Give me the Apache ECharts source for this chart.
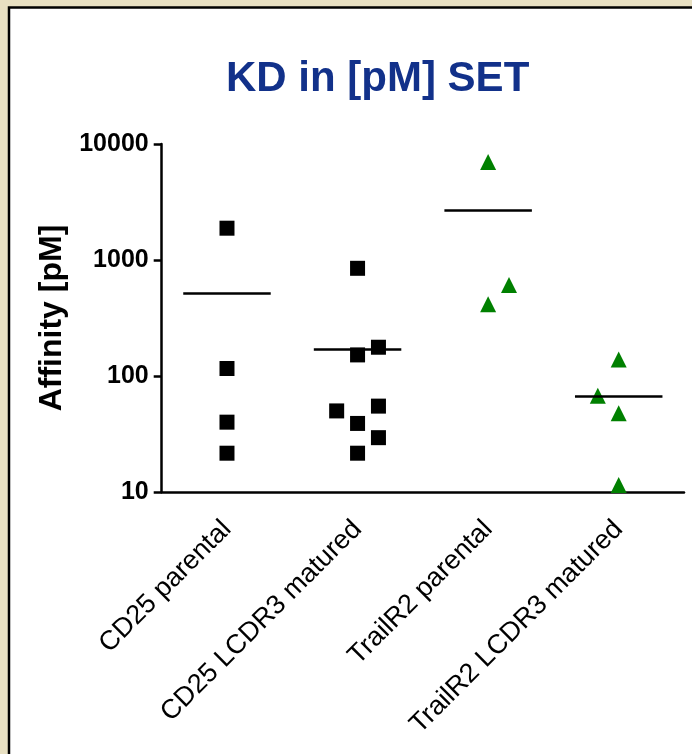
<!DOCTYPE html>
<html>
<head>
<meta charset="utf-8">
<script src="https://cdn.jsdelivr.net/npm/echarts@6/dist/echarts.min.js"></script>
<style>
	html, body { margin: 0; padding: 0; }
	#kd { width: 692px; height: 754px; }
</style>
</head>
<body>
<div id="kd"></div>
<script>
/**
 * 数据
 * **/
var categories = ['CD25 parental', 'CD25 LCDR3 matured', 'TrailR2 parental', 'TrailR2 LCDR3 matured'];
var cd25Parental = [1880, 116, 40, 21.6];
var cd25Matured = [848, 152, 177, 55, 50, 39, 29.4, 21.6];
var trailParental = [7000, 610, 415];
var trailMatured = [139, 67.6, 47.7, 11.5];
// 点的左右错位列 (-1 左, 0 中, 1 右)
var cd25ParentalCol = [0, 0, 0, 0];
var cd25MaturedCol = [0, 0, 1, 1, -1, 0, 1, 0];
var trailParentalCol = [0, 1, 0];
var trailMaturedCol = [0, -1, 0, 0];
var yTicks = [10, 100, 1000, 10000];

var JITTER = 0.16;
var HALF = 0.335;
var FONT = 'Arial, "Liberation Sans", sans-serif';

function points(idx, vals, cols) {
	return vals.map(function(v, i) {
		return [idx + cols[i] * JITTER, v];
	});
}
function mean(vals) {
	var s = 0;
	vals.forEach(function(v) { s += v; });
	return s / vals.length;
}
function group(idx, vals, cols, symbol, size, color) {
	var m = mean(vals);
	return {
		type: 'scatter',
		xAxisIndex: 1,
		symbol: symbol,
		symbolSize: size,
		itemStyle: { color: color, opacity: 1 },
		data: points(idx, vals, cols),
		markLine: {
			silent: true,
			symbol: ['none', 'none'],
			label: { show: false },
			lineStyle: { color: '#000', width: 2.5, type: 'solid' },
			data: [[{ coord: [idx - HALF, m] }, { coord: [idx + HALF, m] }]]
		}
	};
}

var kdChart = echarts.init(document.getElementById('kd'));
var option = {
	backgroundColor: '#e8e0c2',
	animation: false,
	graphic: [{
		type: 'rect',
		z: -10,
		shape: { x: 9, y: 7.5, width: 720, height: 780 },
		style: { fill: '#fff', stroke: '#000', lineWidth: 2.5 }
	}],
	title: {
		text: 'KD in [pM] SET',
		left: 221,
		top: 53,
		textStyle: {
			fontFamily: FONT,
			fontSize: 42,
			fontWeight: 'bold',
			color: '#12318a'
		}
	},
	grid: {
		left: 161.7,
		right: 8,
		top: 144,
		bottom: 262,
		containLabel: false
	},
	xAxis: [{
		type: 'category',
		data: categories,
		boundaryGap: true,
		axisLine: { onZero: false, lineStyle: { color: '#000', width: 2.5 } },
		axisTick: { alignWithLabel: true, length: 8, lineStyle: { color: '#000', width: 2.5 } },
		axisLabel: {
			interval: 0,
			rotate: 45,
			margin: 33,
			color: '#000',
			fontFamily: FONT,
			fontSize: 27
		},
		splitLine: { show: false }
	}, {
		type: 'value',
		min: -0.5,
		max: 3.5,
		show: false
	}],
	yAxis: {
		type: 'log',
		logBase: 10,
		min: yTicks[0],
		max: yTicks[yTicks.length - 1],
		name: 'Affinity [pM]',
		nameLocation: 'middle',
		nameRotate: 90,
		nameGap: 93,
		nameTextStyle: {
			fontFamily: FONT,
			fontSize: 32,
			fontWeight: 'bold',
			color: '#000'
		},
		axisLine: { show: true, onZero: false, lineStyle: { color: '#000', width: 2.5 } },
		axisTick: { show: true, length: 8, lineStyle: { color: '#000', width: 2.5 } },
		minorTick: { show: false },
		axisLabel: {
			margin: 13,
			color: '#000',
			fontFamily: FONT,
			fontSize: 25,
			fontWeight: 'bold',
			formatter: function(v) { return String(v); }
		},
		splitLine: { show: false }
	},
	series: [
		group(0, cd25Parental, cd25ParentalCol, 'rect', 15, '#000'),
		group(1, cd25Matured, cd25MaturedCol, 'rect', 15, '#000'),
		group(2, trailParental, trailParentalCol, 'triangle', 16, '#008000'),
		group(3, trailMatured, trailMaturedCol, 'triangle', 16, '#008000')
	]
};
kdChart.setOption(option);
</script>
</body>
</html>
